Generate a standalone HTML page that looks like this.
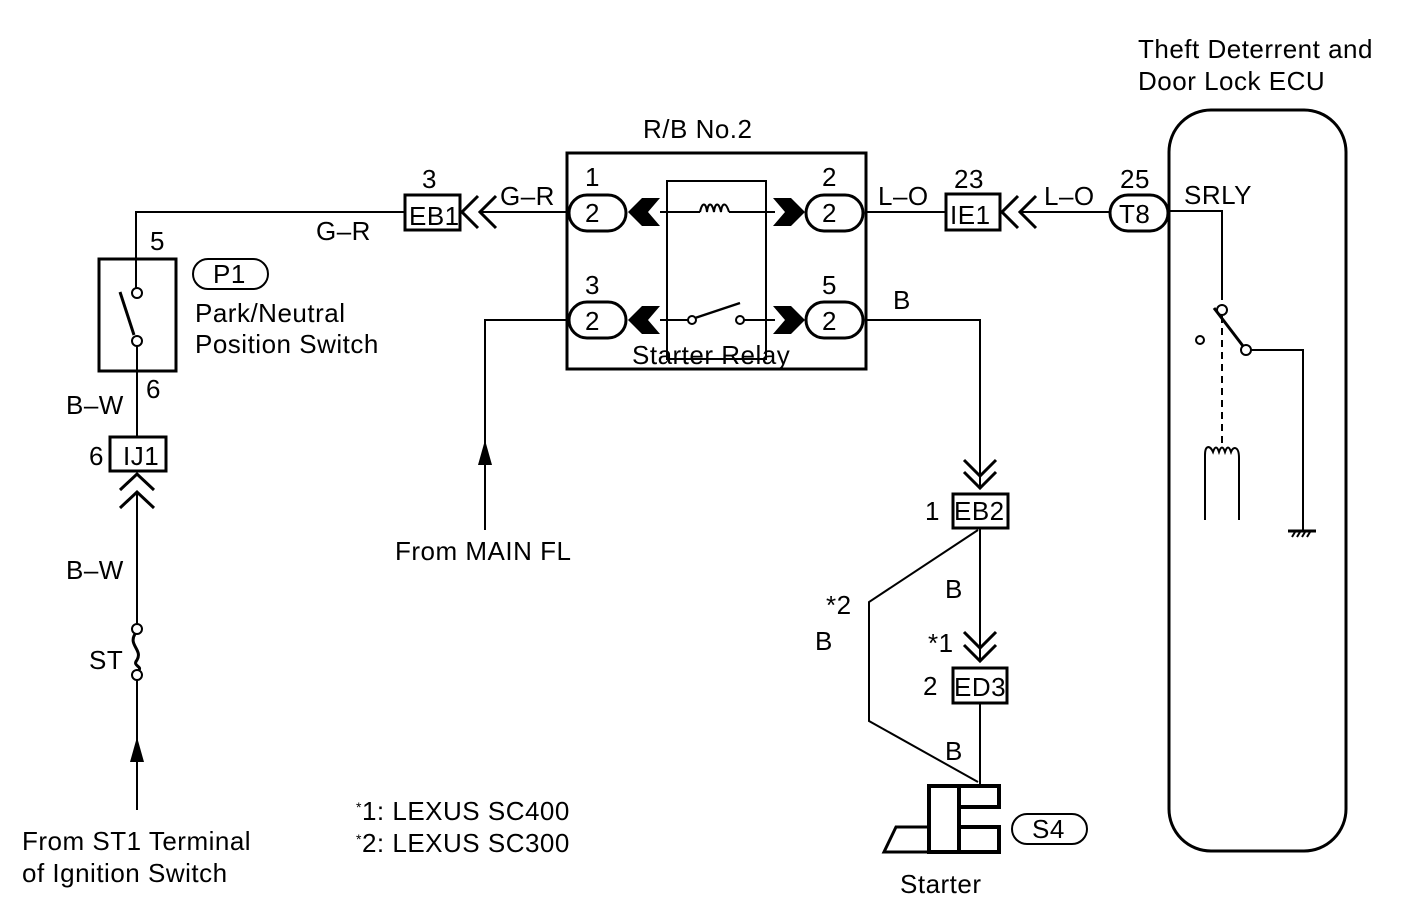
<!DOCTYPE html>
<html><head><meta charset="utf-8"><style>
html,body{margin:0;padding:0;background:#fff;}
svg{display:block;}
text{font-family:"Liberation Sans",Arial,sans-serif;font-size:26px;letter-spacing:0.5px;fill:#000;}
</style></head><body>
<svg width="1408" height="908" viewBox="0 0 1408 908" xmlns="http://www.w3.org/2000/svg">
<g fill="none" stroke="#000" stroke-width="2">
<polyline points="404,212 136,212 136,292"/>
<rect x="99" y="259" width="77" height="112" stroke-width="3"/>
<circle cx="137" cy="293" r="5" fill="#fff"/>
<circle cx="137" cy="341" r="5" fill="#fff"/>
<line x1="120" y1="292" x2="134" y2="335" stroke-width="3"/>
<line x1="137" y1="346" x2="137" y2="437"/>
<rect x="110" y="437" width="56" height="34" stroke-width="3"/>
<polyline points="120,490 137,474 154,490" stroke-width="3"/>
<polyline points="120,508 137,492 154,508" stroke-width="3"/>
<line x1="137" y1="492" x2="137" y2="624"/>
<circle cx="137" cy="629" r="5"/>
<circle cx="137" cy="675" r="5"/>
<path d="M135,634 C128,645 143,650 137,660 C132,666 142,666 139,670" stroke-width="3"/>
<line x1="137" y1="680" x2="137" y2="810"/>
<rect x="193" y="259" width="75" height="30" rx="15"/>
<rect x="405" y="195" width="55" height="35" stroke-width="3"/>
<polyline points="478,196 462,212 478,228" stroke-width="3"/>
<polyline points="496,196 480,212 496,228" stroke-width="3"/>
<line x1="480" y1="212" x2="568" y2="212"/>
<rect x="567" y="153" width="299" height="216" stroke-width="3"/>
<rect x="667" y="181" width="99" height="178" stroke-width="2"/>
<rect x="569" y="195" width="57" height="36" rx="18" stroke-width="3"/>
<rect x="569" y="302" width="57" height="36" rx="18" stroke-width="3"/>
<rect x="806" y="195" width="57" height="36" rx="18" stroke-width="3"/>
<rect x="806" y="302" width="57" height="36" rx="18" stroke-width="3"/>
<line x1="660" y1="212" x2="700" y2="212"/>
<path d="M700,212 c2,-10 6,-10 7,0 c1,-10 5,-10 7,0 c1,-10 5,-10 7,0 c1,-10 5,-10 8,0"/>
<line x1="729" y1="212" x2="775" y2="212"/>
<line x1="660" y1="320" x2="688" y2="320"/>
<circle cx="692" cy="320" r="4"/>
<line x1="695" y1="318" x2="740" y2="303" stroke-width="2.5"/>
<circle cx="740" cy="320" r="4"/>
<line x1="744" y1="320" x2="775" y2="320"/>
<line x1="866" y1="212" x2="945" y2="212"/>
<polyline points="568,320 485,320 485,530"/>
<polyline points="866,320 980,320 980,487"/>
<polyline points="964,460 980,476 996,460" stroke-width="3"/>
<polyline points="964,472 980,488 996,472" stroke-width="3"/>
<rect x="953" y="494" width="55" height="34" stroke-width="3"/>
<line x1="980" y1="528" x2="980" y2="660"/>
<polyline points="964,632 980,648 996,632" stroke-width="3"/>
<polyline points="964,645 980,661 996,645" stroke-width="3"/>
<rect x="953" y="668" width="54" height="35" stroke-width="3"/>
<line x1="980" y1="703" x2="980" y2="787"/>
<polyline points="978,530 869,602 869,721 978,782"/>
<g stroke-width="4">
<polyline points="959,807 999,807 999,786 929,786 929,852 999,852 999,827 959,827"/>
<line x1="959" y1="786" x2="959" y2="852"/>
<polyline points="929,827 896,827 884,852 929,852" stroke-width="3"/>
</g>
<rect x="1012" y="814" width="75" height="30" rx="15"/>
<rect x="946" y="194" width="54" height="36" stroke-width="3"/>
<polyline points="1018,196 1002,212 1018,228" stroke-width="3"/>
<polyline points="1036,196 1020,212 1036,228" stroke-width="3"/>
<line x1="1020" y1="212" x2="1110" y2="212"/>
<rect x="1110" y="195" width="58" height="36" rx="18" stroke-width="3"/>
<rect x="1169" y="110" width="177" height="741" rx="42" stroke-width="3"/>
<polyline points="1169,211 1222,211 1222,300"/>
<circle cx="1222" cy="310" r="5"/>
<circle cx="1200" cy="340" r="4"/>
<line x1="1214" y1="308" x2="1243" y2="346" stroke-width="3"/>
<circle cx="1246" cy="350" r="5"/>
<polyline points="1251,350 1303,350 1303,530"/>
<line x1="1288" y1="531" x2="1316" y2="531" stroke-width="3"/>
<line x1="1292" y1="537" x2="1295" y2="532"/><line x1="1297" y1="537" x2="1300" y2="532"/><line x1="1302" y1="537" x2="1305" y2="532"/><line x1="1307" y1="537" x2="1310" y2="532"/>
<line x1="1222" y1="316" x2="1222" y2="445" stroke-dasharray="7,5"/>
<path d="M1205,520 V455 c0,-10 5,-10 8,-3 c2,-6 4,-6 6,0 c2,-6 4,-6 6,0 c2,-6 4,-6 6,0 c2,-6 8,-6 8,6 V520"/>
</g>
<g fill="#000">
<path d="M628,212 L642,198 L660,198 L648,212 L660,226 L642,226 Z"/>
<path d="M628,320 L642,306 L660,306 L648,320 L660,334 L642,334 Z"/>
<path d="M805,212 L791,198 L773,198 L785,212 L773,226 L791,226 Z"/>
<path d="M805,320 L791,306 L773,306 L785,320 L773,334 L791,334 Z"/>
<path d="M137,737 L130,762 L144,762 Z"/>
<path d="M485,440 L478,465 L492,465 Z"/>
</g>
<text x="1138" y="58">Theft Deterrent and</text>
<text x="1138" y="90">Door Lock ECU</text>
<text x="643" y="138">R/B No.2</text>
<text x="422" y="188">3</text>
<text x="409" y="225" font-size="24" letter-spacing="0">EB1</text>
<text x="500" y="205">G–R</text>
<text x="316" y="240">G–R</text>
<text x="150" y="250">5</text>
<text x="213" y="283" font-size="24">P1</text>
<text x="195" y="322">Park/Neutral</text>
<text x="195" y="353">Position Switch</text>
<text x="146" y="398">6</text>
<text x="66" y="414">B–W</text>
<text x="89" y="465">6</text>
<text x="123" y="465" font-size="24" letter-spacing="0">IJ1</text>
<text x="66" y="579">B–W</text>
<text x="89" y="669">ST</text>
<text x="22" y="850">From ST1 Terminal</text>
<text x="22" y="882">of Ignition Switch</text>
<text x="585" y="186">1</text>
<text x="585" y="222">2</text>
<text x="822" y="186">2</text>
<text x="822" y="222">2</text>
<text x="585" y="294">3</text>
<text x="585" y="330">2</text>
<text x="822" y="294">5</text>
<text x="822" y="330">2</text>
<text x="632" y="364">Starter Relay</text>
<text x="878" y="205">L–O</text>
<text x="954" y="188">23</text>
<text x="950" y="224" font-size="24" letter-spacing="0">IE1</text>
<text x="1044" y="205">L–O</text>
<text x="1120" y="188">25</text>
<text x="1119" y="223" font-size="24" letter-spacing="0">T8</text>
<text x="1184" y="204">SRLY</text>
<text x="893" y="309">B</text>
<text x="395" y="560">From MAIN FL</text>
<text x="925" y="520">1</text>
<text x="954" y="520" font-size="24" letter-spacing="0">EB2</text>
<text x="945" y="598">B</text>
<text x="826" y="614" font-size="15">*2</text>
<text x="815" y="650">B</text>
<text x="928" y="652" font-size="15">*1</text>
<text x="923" y="695">2</text>
<text x="954" y="696" font-size="24" letter-spacing="0">ED3</text>
<text x="945" y="760">B</text>
<text x="1032" y="838" font-size="24">S4</text>
<text x="900" y="893">Starter</text>
<text x="356" y="820"><tspan font-size="14" dy="-8">*</tspan><tspan dy="8">1: LEXUS SC400</tspan></text>
<text x="356" y="852"><tspan font-size="14" dy="-8">*</tspan><tspan dy="8">2: LEXUS SC300</tspan></text>
</svg>
</body></html>
